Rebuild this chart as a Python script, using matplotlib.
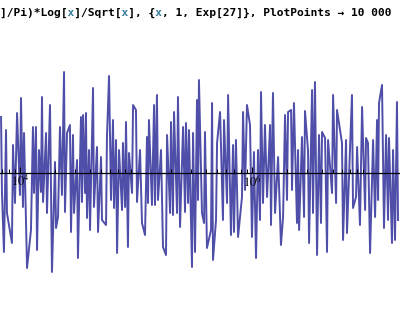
import re
import numpy as np
import matplotlib
matplotlib.use("Agg")
import matplotlib.pyplot as plt
from matplotlib.ticker import LogLocator, NullFormatter, FixedLocator, FixedFormatter

# local maxima of the oscillating term (x given as log10 x)
peak_log10x = [3.837, 3.880, 3.940, 3.975, 4.009, 4.035, 4.112, 4.138, 4.164, 4.190,
               4.225, 4.259, 4.302, 4.345, 4.380, 4.406, 4.431, 4.457, 4.492, 4.526,
               4.544, 4.569, 4.595, 4.630, 4.664, 4.699, 4.750, 4.768, 4.802, 4.828,
               4.854, 4.888, 4.914, 4.940, 4.975, 5.000, 5.035, 5.095, 5.112, 5.156,
               5.181, 5.216, 5.268, 5.302, 5.328, 5.362, 5.406, 5.431, 5.457, 5.492,
               5.526, 5.543, 5.595, 5.656, 5.699, 5.725, 5.759, 5.794, 5.837, 5.862,
               5.923, 5.957, 5.983, 6.017, 6.052, 6.078, 6.112, 6.156, 6.181, 6.225,
               6.285, 6.311, 6.337, 6.362, 6.397, 6.431, 6.457, 6.483, 6.518, 6.543,
               6.578, 6.604, 6.630, 6.656, 6.699, 6.733, 6.776, 6.811, 6.862, 6.906,
               6.949, 6.983, 7.000, 7.044, 7.078, 7.095, 7.121, 7.156, 7.181, 7.216,
               7.250]
peak_value = [56, 43, 28, 60, 75, 40, 46, 46, 23, 76,
              40, 68, 11, 46, 101, 40, 48, 38, 13, 56,
              58, 60, 23, 85, 26, 16, 36, 97, 53, 33,
              23, 30, 51, 20, 68, 63, 23, 36, 53, 68,
              78, 23, 38, 51, 61, 76, 46, 50, 43, 40,
              73, 93, 41, 70, 30, 61, 53, 78, 28, 33,
              61, 68, 48, 21, 23, 81, 48, 48, 80, 16,
              58, 61, 63, 70, 23, 36, 62, 23, 83, 91,
              38, 41, 35, 33, 78, 63, 30, 33, 78, 26,
              66, 35, 30, 33, 53, 70, 88, 38, 35, 23,
              71]

# local minima
trough_log10x = [3.845, 3.862, 3.888, 3.931, 3.957, 4.000, 4.026, 4.061, 4.095, 4.121,
                 4.147, 4.181, 4.199, 4.233, 4.276, 4.311, 4.328, 4.362, 4.388, 4.440,
                 4.466, 4.500, 4.535, 4.561, 4.578, 4.604, 4.638, 4.673, 4.707, 4.742,
                 4.785, 4.811, 4.837, 4.880, 4.906, 4.931, 4.966, 5.009, 5.052, 5.078,
                 5.104, 5.138, 5.164, 5.190, 5.233, 5.259, 5.294, 5.319, 5.354, 5.380,
                 5.423, 5.449, 5.483, 5.509, 5.535, 5.569, 5.587, 5.612, 5.647, 5.664,
                 5.690, 5.750, 5.785, 5.819, 5.845, 5.880, 5.914, 5.940, 6.000, 6.035,
                 6.069, 6.095, 6.130, 6.164, 6.199, 6.250, 6.268, 6.302, 6.345, 6.388,
                 6.406, 6.449, 6.492, 6.526, 6.561, 6.595, 6.647, 6.690, 6.725, 6.785,
                 6.819, 6.871, 6.897, 6.931, 6.975, 7.018, 7.061, 7.087, 7.138, 7.173,
                 7.207, 7.233, 7.259]
trough_value = [-20, -79, -40, -70, -30, -22, -34, -95, -57, -20,
                -77, -19, -29, -40, -99, -55, -44, -22, -39, -59,
                -40, -85, -29, -20, -45, -57, -34, -59, -47, -52,
                -27, -35, -80, -37, -34, -74, -20, -29, -50, -62,
                -30, -32, -32, -27, -74, -82, -40, -42, -40, -54,
                -39, -30, -94, -79, -27, -40, -50, -75, -57, -87,
                -47, -47, -30, -62, -59, -64, -24, -17, -64, -85,
                -47, -30, -24, -52, -40, -72, -44, -27, -17, -50,
                -57, -44, -70, -40, -82, -50, -79, -20, -30, -67,
                -60, -35, -24, -52, -37, -80, -44, -27, -55, -47,
                -70, -67, -47]

title_text = "]/Pi)*Log[x]/Sqrt[x], {x, 1, Exp[27]}, PlotPoints \u2192 10 000"

lx = np.concatenate([peak_log10x, trough_log10x])
val = np.concatenate([peak_value, trough_value])
order = np.argsort(lx)
x = 10 ** lx[order]
y = val[order]

plt.rcParams['mathtext.fontset'] = 'stix'

fig = plt.figure(figsize=(4, 3.2), dpi=100)
ax = fig.add_axes([0, 0, 1, 1])
ax.plot(x, y, color='#3c3ca0', linewidth=1.4, alpha=0.9, zorder=1)

ax.set_xscale('log')
ax.set_xlim(10 ** 3.828, 10 ** 7.276)
ax.set_ylim(-147, 173)

for side in ['top', 'right', 'left']:
    ax.spines[side].set_visible(False)
ax.spines['bottom'].set_position(('data', 0))
ax.spines['bottom'].set_linewidth(0.9)
ax.spines['bottom'].set_zorder(3)
ax.set_yticks([])

ax.xaxis.set_major_locator(FixedLocator([1e4, 1e6]))
ax.xaxis.set_major_formatter(FixedFormatter([r'$10^{4}$', r'$10^{6}$']))
ax.xaxis.set_minor_locator(LogLocator(base=10, subs=np.arange(2, 10)))
ax.xaxis.set_minor_formatter(NullFormatter())
ax.tick_params(axis='x', which='major', direction='in', length=4, width=0.8, pad=1,
               labelsize=9)
ax.tick_params(axis='x', which='minor', direction='in', length=3, width=0.7)

# input line; only the variable x is coloured
var_pos = {m.start() for m in re.finditer(r'(?<![A-Za-z])x(?![A-Za-z])', title_text)}
black_part = ''.join(' ' if i in var_pos else c for i, c in enumerate(title_text))
blue_part = ''.join(c if i in var_pos else ' ' for i, c in enumerate(title_text))
for part, col in [(black_part, 'black'), (blue_part, '#3a7d9c')]:
    fig.text(0.0, 1 - 13 / 320, part, family=['DejaVu Sans Mono'], weight='bold',
             fontsize=8.1, color=col, ha='left', va='center')

fig.savefig('out.png', dpi=100, facecolor='white')
